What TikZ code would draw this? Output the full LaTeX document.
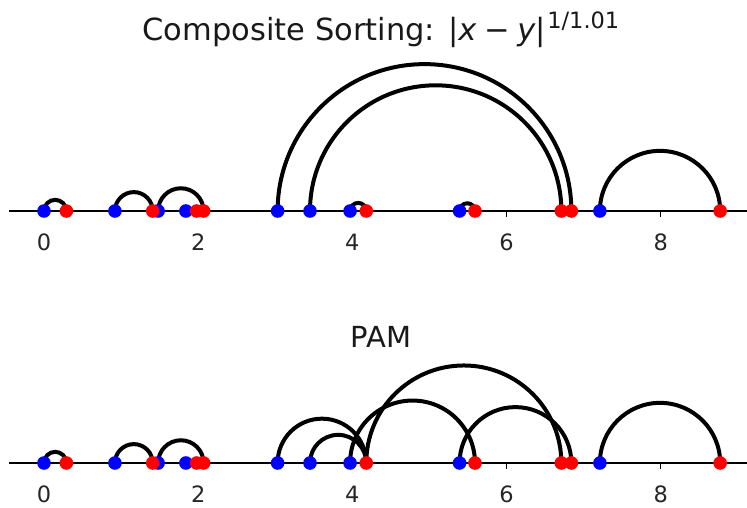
\documentclass[tikz,border=0pt]{standalone}
\usepackage{fontspec}
\setmainfont{DejaVu Sans}
\begin{document}
\begin{tikzpicture}[x=1pt,y=-1pt,
  axisline/.style={line width=1.3pt},
  tickline/.style={line width=1.1pt},
  arcline/.style={line width=4pt},
  bdot/.style={circle,fill={rgb,255:red,0;green,0;blue,255},inner sep=0pt,minimum size=13.6pt},
  rdot/.style={circle,fill={rgb,255:red,255;green,0;blue,0},inner sep=0pt,minimum size=13.6pt},
  ticklabel/.style={font=\fontsize{22.5}{22.5}\selectfont,text=black!85},
  titlelabel/.style={font=\fontsize{29}{29}\selectfont,anchor=base,text=black!90}]
\useasboundingbox (0,0) rectangle (747,508);
\node[titlelabel,font=\fontsize{30.5}{30.5}\selectfont] (title1) at (381,41) {Composite Sorting: |\textit{x}\hspace{0.25em}−\hspace{0.25em}\textit{y}|\hspace{0.04em}\raisebox{12.5pt}{\fontsize{22.5}{22.5}\selectfont 1/1.01}};
\node[titlelabel] (title2) at (381,347) {PAM};
% ---------- top panel ----------
\begin{scope}[shift={(44,211)},x=77.1pt,y=77.1pt]
  \coordinate (tl) at (-0.454,0); \coordinate (tre) at (9.12,0);
  \draw[axisline] (tl) -- (tre);
  \foreach \t in {0,2,4,6,8}{
    \coordinate (tt\t) at (\t,0);
    \draw[tickline] (tt\t) -- ++(0,-0.08);
    \node[ticklabel] (tk\t) at (\t,-0.41) {\t};
  }
  \foreach \v [count=\i] in {0,0.92,1.48,1.84,3.03,3.45,3.97,5.39,7.21}{\coordinate (tb\i) at (\v,0);}
  \foreach \v [count=\i] in {0.29,1.41,1.98,2.07,4.18,5.59,6.71,6.84,8.77}{\coordinate (tr\i) at (\v,0);}
  \foreach \s/\r in {tb1/0.145,tb2/0.245,tb3/0.295,tb5/1.905,tb6/1.63,tb7/0.105,tb8/0.1,tb9/0.78}{
    \draw[arcline] (\s) arc[start angle=180,end angle=0,radius=\r];
  }
  \foreach \i in {1,...,9}{\node[bdot] (dtb\i) at (tb\i) {};}
  \foreach \i in {1,...,9}{\node[rdot] (dtr\i) at (tr\i) {};}
\end{scope}
% ---------- bottom panel ----------
\begin{scope}[shift={(44,463)},x=77.1pt,y=77.1pt]
  \coordinate (bl) at (-0.454,0); \coordinate (bre) at (9.12,0);
  \draw[axisline] (bl) -- (bre);
  \foreach \t in {0,2,4,6,8}{
    \coordinate (bt\t) at (\t,0);
    \draw[tickline] (bt\t) -- ++(0,-0.08);
    \node[ticklabel] (bk\t) at (\t,-0.41) {\t};
  }
  \foreach \v [count=\i] in {0,0.92,1.48,1.84,3.03,3.45,3.97,5.39,7.21}{\coordinate (bb\i) at (\v,0);}
  \foreach \v [count=\i] in {0.29,1.41,1.98,2.07,4.18,5.59,6.71,6.84,8.77}{\coordinate (br\i) at (\v,0);}
  \foreach \s/\r in {bb1/0.145,bb2/0.245,bb3/0.295,bb5/0.575,bb6/0.365,bb7/0.81,br5/1.265,bb8/0.725,bb9/0.78}{
    \draw[arcline] (\s) arc[start angle=180,end angle=0,radius=\r];
  }
  \foreach \i in {1,...,9}{\node[bdot] (dbb\i) at (bb\i) {};}
  \foreach \i in {1,...,9}{\node[rdot] (dbr\i) at (br\i) {};}
\end{scope}
\end{tikzpicture}
\end{document}
